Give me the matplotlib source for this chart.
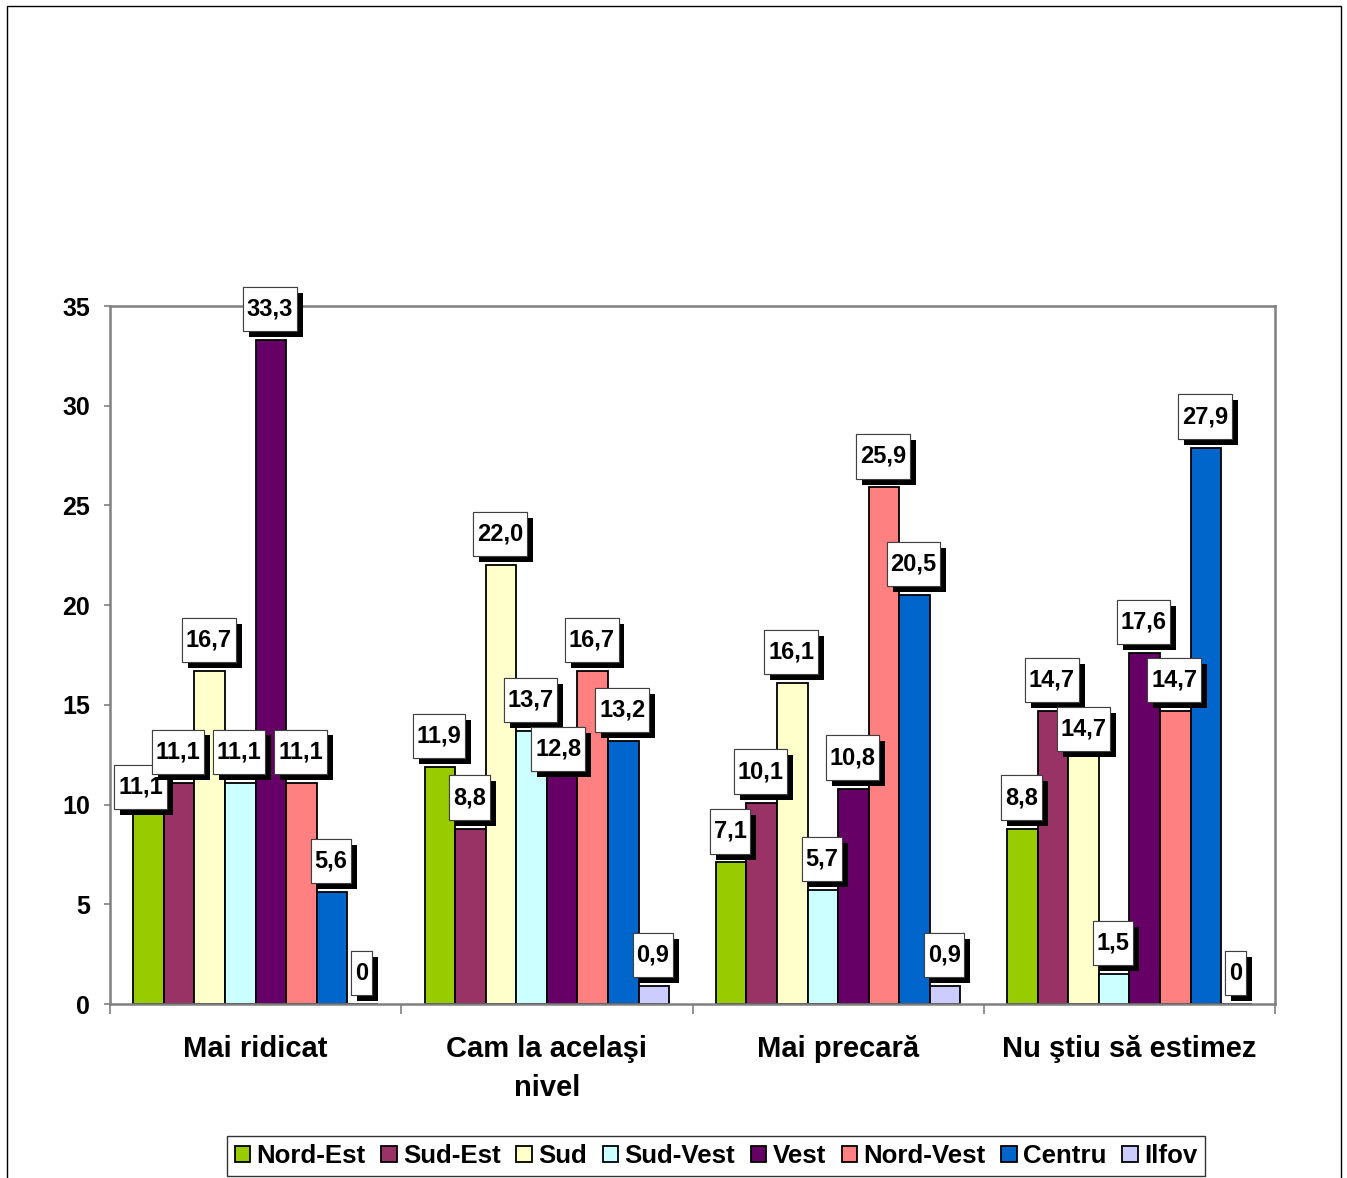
import matplotlib
matplotlib.use("Agg")
import matplotlib.pyplot as plt
import matplotlib.patheffects as pe
from matplotlib.patches import Rectangle
from matplotlib.path import Path
import numpy as np

plt.rcParams['font.family'] = ['Liberation Sans', 'DejaVu Sans']
plt.rcParams['font.weight'] = 'bold'

categories = ["Mai ridicat", "Cam la acelaşi\nnivel", "Mai precară", "Nu ştiu să estimez"]
series_names = ["Nord-Est", "Sud-Est", "Sud", "Sud-Vest", "Vest", "Nord-Vest", "Centru", "Ilfov"]
nord_est = [11.1, 11.9, 7.1, 8.8]
sud_est = [11.1, 8.8, 10.1, 14.7]
sud = [16.7, 22.0, 16.1, 14.7]
sud_vest = [11.1, 13.7, 5.7, 1.5]
vest = [33.3, 12.8, 10.8, 17.6]
nord_vest = [11.1, 16.7, 25.9, 14.7]
centru = [5.6, 13.2, 20.5, 27.9]
ilfov = [0, 0.9, 0.9, 0]
yticks = [0, 5, 10, 15, 20, 25, 30, 35]

series = [nord_est, sud_est, sud, sud_vest, vest, nord_vest, centru, ilfov]
colors = ["#99CC00", "#993366", "#FFFFCC", "#CCFFFF", "#660066", "#FF8080", "#0066CC", "#CCCCFF"]

# manual label nudges (pixels) for overlapping labels: (category, series) -> (dx, dy)
nudges = {(0, 0): (-7, -35), (1, 4): (-3, -31), (3, 2): (1, -49)}


def tallbox(x0, y0, width, height, mutation_size):
    padx = 0.16 * mutation_size
    pady = 0.45 * mutation_size
    x0, y0 = x0 - padx, y0 - pady
    x1, y1 = x0 + width + 2 * padx, y0 + height + 2 * pady
    return Path([(x0, y0), (x1, y0), (x1, y1), (x0, y1), (x0, y0)], closed=True)


W, H = 1347, 1178
fig = plt.figure(figsize=(W / 100, H / 100), dpi=100)
ax = fig.add_axes([110 / W, 1 - 1004 / H, 1165 / W, 698 / H])

bw = 0.105
x = np.arange(len(categories))
for i, (name, vals, col) in enumerate(zip(series_names, series, colors)):
    pos = x + (i - 3.5) * bw
    ax.bar(pos, vals, width=bw, color=col, edgecolor="black", linewidth=1.3,
           label=name, zorder=2)
    for j, (px, v) in enumerate(zip(pos, vals)):
        txt = "0" if v == 0 else f"{v:.1f}".replace(".", ",")
        dx, dy = nudges.get((j, i), (0, 0))
        t = ax.annotate(txt, xy=(px, v), xytext=(-1 + dx, 31 + dy),
                        textcoords="offset pixels", ha="center", va="center",
                        fontsize=17, fontweight="bold", zorder=5,
                        bbox=dict(boxstyle=tallbox, fc="white",
                                  ec="#404040", lw=0.8))
        t.get_bbox_patch().set_path_effects(
            [pe.withSimplePatchShadow(offset=(4.3, -4.3), shadow_rgbFace="black", alpha=1.0),
             pe.Normal()])

ax.set_xlim(-0.5, 3.5)
ax.set_ylim(0, 35)
ax.set_yticks(yticks)
ax.set_yticklabels([str(v) for v in yticks], fontsize=18, fontweight="bold")
ax.set_xticks(x)
ax.set_xticklabels(categories, fontsize=21, fontweight="bold", linespacing=1.52)
ax.set_xticks(np.arange(-0.5, 4, 1), minor=True)
ax.tick_params(axis="x", which="major", length=0, pad=22)
ax.tick_params(axis="x", which="minor", length=7, width=1.2, color="#808080")
ax.tick_params(axis="y", length=4.5, width=1.2, color="#808080", pad=10)
for s in ax.spines.values():
    s.set_color("#808080")
    s.set_linewidth(1.8)

leg = fig.legend(loc="center", bbox_to_anchor=(716 / W, 1 - 1156 / H), ncol=8,
                 fontsize=18.6, frameon=True, fancybox=False, edgecolor="black",
                 handlelength=0.6, handleheight=0.6, handletextpad=0.25,
                 columnspacing=0.6, borderpad=0.3, borderaxespad=0)
leg.get_frame().set_linewidth(1.0)
for t in leg.get_texts():
    t.set_fontweight("bold")

fig.patches.append(Rectangle((7 / W, -0.01), (1341 - 7) / W, 1.01 - 6 / H,
                             transform=fig.transFigure, fill=False,
                             edgecolor="black", linewidth=1.0))

fig.savefig("out.png", dpi=100)
